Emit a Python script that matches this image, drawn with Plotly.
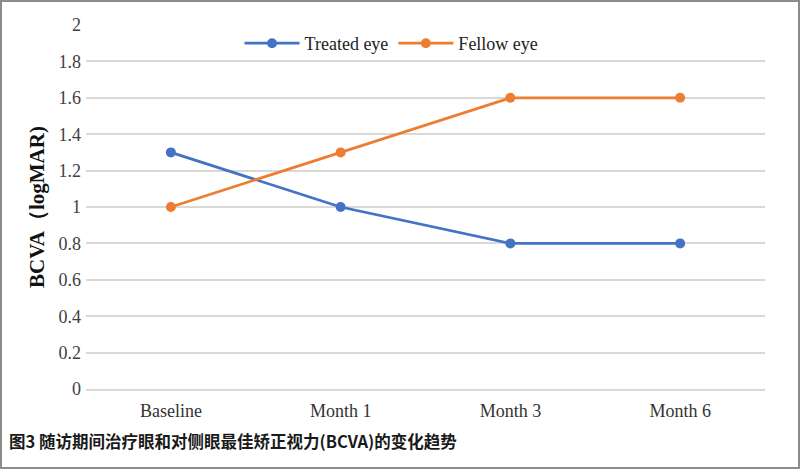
import plotly.graph_objects as go

# data
categories = ["Baseline", "Month 1", "Month 3", "Month 6"]
treated_eye = [1.3, 1.0, 0.8, 0.8]
fellow_eye = [1.0, 1.3, 1.6, 1.6]
y_ticks = [0, 0.2, 0.4, 0.6, 0.8, 1, 1.2, 1.4, 1.6, 1.8, 2]
y_tick_labels = ["0", "0.2", "0.4", "0.6", "0.8", "1", "1.2", "1.4", "1.6", "1.8", "2"]
caption = "图3 随访期间治疗眼和对侧眼最佳矫正视力(BCVA)的变化趋势"

W, H = 800, 469
L, R, T, B = 86, 35, 25, 80
pw, ph = W - L - R, H - T - B

serif = "Liberation Serif, Times New Roman, serif"

fig = go.Figure()
fig.add_trace(go.Scatter(
    x=categories, y=treated_eye, name="Treated eye",
    mode="lines+markers",
    line=dict(color="#4472C4", width=2.8),
    marker=dict(size=10, color="#4472C4"),
))
fig.add_trace(go.Scatter(
    x=categories, y=fellow_eye, name="Fellow eye",
    mode="lines+markers",
    line=dict(color="#ED7D31", width=2.8),
    marker=dict(size=10, color="#ED7D31"),
))

# outer frame of the picture, in paper coords
fig.add_shape(
    type="rect", xref="paper", yref="paper",
    x0=(1 - L) / pw, x1=(W - 1 - L) / pw,
    y0=-(B - 1) / ph, y1=1 + (T - 1) / ph,
    line=dict(color="#8C8C8C", width=2),
)

fig.add_annotation(
    text="<b>" + caption + "</b>", xref="paper", yref="paper",
    x=(7 - L) / pw, y=-(441 - T - ph) / ph,
    xanchor="left", yanchor="middle", showarrow=False,
    font=dict(family="Noto Sans CJK SC", size=16.5, color="#1a1a1a"),
)

fig.update_layout(
    width=W, height=H,
    margin=dict(l=L, r=R, t=T, b=B),
    plot_bgcolor="white", paper_bgcolor="white",
    font=dict(family=serif, size=18, color="#404040"),
    showlegend=True,
    legend=dict(
        orientation="h", x=0.45, xanchor="center", y=1.0, yanchor="top",
        bgcolor="rgba(0,0,0,0)", font=dict(family=serif, size=18, color="#222222"),
        itemwidth=55,
    ),
    xaxis=dict(
        type="category", range=[-0.5, 3.5],
        showgrid=False, showline=True, linecolor="#D9D9D9", linewidth=1.5,
        ticks="", ticklabelstandoff=5,
        tickfont=dict(family=serif, size=18, color="#333333"),
    ),
    yaxis=dict(
        range=[0, 2], tickvals=y_ticks, ticktext=y_tick_labels,
        showgrid=True, gridcolor="#D9D9D9", gridwidth=1.5,
        zeroline=False, showline=False, ticks="", ticklabelstandoff=4,
        tickfont=dict(family=serif, size=18, color="#404040"),
        title=dict(text="<b>BCVA（logMAR)</b>", standoff=8,
                   font=dict(family=serif, size=21, color="#111111")),
    ),
)

# drop the default 8px body margin so the figure sits at the page corner
fig.write_html("out.html", config={"displayModeBar": False},
               post_script="document.body.style.margin='0';")
